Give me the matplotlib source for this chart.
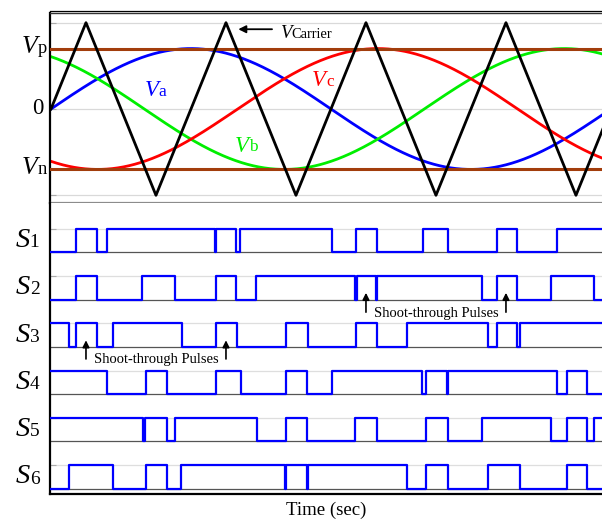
"""
Carrier-based PWM with shoot-through states: reference waves, carrier and gate signals
"""
import numpy as np
import matplotlib
matplotlib.use("Agg")
import matplotlib.pyplot as plt
from matplotlib.transforms import blended_transform_factory

plt.rcParams['font.family'] = 'Liberation Serif'

# time is measured in carrier periods
T_END = 4.0

# triangular carrier, vertex times and values
CARRIER_T = [0, 0.25, 0.75, 1.25, 1.75, 2.25, 2.75, 3.25, 3.75, 4.0]
CARRIER_V = [0, 1, -1, 1, -1, 1, -1, 1, -1, 0]

# shoot-through envelopes and modulating waves
V_P = 0.7
V_N = -0.7
MOD_PERIOD = 4.0
PHASES = [0, 120, -120]          # Va, Vb, Vc in degrees
WAVE_NAMES = ['a', 'b', 'c']
WAVE_COLORS = ['#0000ff', '#00ee00', '#ff0000']

# gate signals: state at t = 0 and switching instants
S_NAMES = ['1', '2', '3', '4', '5', '6']
S_START = [0, 0, 1, 1, 1, 0]
S_EDGES = [
    [0.176, 0.326, 0.400, 1.171, 1.181, 1.321, 1.350, 2.005, 2.179, 2.326,
     2.657, 2.834, 3.184, 3.331, 3.612],
    [0.176, 0.326, 0.652, 0.886, 1.176, 1.321, 1.464, 2.171, 2.184, 2.325,
     2.332, 3.076, 3.184, 3.331, 3.569, 3.879],
    [0.129, 0.176, 0.326, 0.441, 0.934, 1.176, 1.326, 1.679, 1.834, 2.179,
     2.326, 2.541, 3.119, 3.184, 3.331, 3.352],
    [0.398, 0.676, 0.826, 1.176, 1.355, 1.679, 1.831, 2.005, 2.650, 2.679,
     2.829, 2.839, 3.612, 3.684, 3.831],
    [0.655, 0.671, 0.826, 0.886, 1.469, 1.679, 1.831, 2.171, 2.326, 2.679,
     2.834, 3.076, 3.569, 3.684, 3.831, 3.879],
    [0.129, 0.441, 0.676, 0.826, 0.929, 1.674, 1.681, 1.829, 1.836, 2.541,
     2.679, 2.834, 3.119, 3.352, 3.684, 3.831],
]

# shoot-through pulses pointed at (times, on S3 and S2 rows)
ST_ARROWS_LOW = [0.25, 1.25]
ST_ARROWS_HIGH = [2.25, 3.25]

BROWN = '#a23d0c'
BLUE = '#0000ff'


def split_label(ax, x, y, head, tail, size, color='k', transform=None,
                align='left', ratio=0.75):
    """Italic letter followed by a smaller upright suffix on one baseline."""
    small = size * ratio
    shift = 0.216 * (size - small)
    if transform is None:
        transform = ax.transData
    if align == 'left':
        t1 = ax.text(x, y, head, fontsize=size, style='italic', color=color,
                     transform=transform, ha='left', va='baseline')
        ax.annotate(tail, xy=(1, 0), xycoords=t1, xytext=(0, shift),
                    textcoords='offset points', fontsize=small, color=color,
                    ha='left', va='bottom', annotation_clip=False)
    else:
        t2 = ax.text(x, y, tail, fontsize=small, color=color,
                     transform=transform, ha='right', va='baseline',
                     clip_on=False)
        ax.annotate(head, xy=(0, 0), xycoords=t2, xytext=(0, -shift),
                    textcoords='offset points', fontsize=size,
                    style='italic', color=color, ha='right', va='bottom',
                    annotation_clip=False)


fig = plt.figure(figsize=(6.02, 5.19), dpi=100)
W, H = 602.0, 519.0
ax1 = fig.add_axes([50 / W, 1 - 203 / H, 552 / W, 190 / H])
ax2 = fig.add_axes([50 / W, 1 - 494 / H, 552 / W, 291 / H], sharex=ax1)
ax1.set_xlim(-0.007, 3.936)

# ---- upper panel: carrier and references ----
ax1.set_ylim(-1.089, 1.112)
for yy in (-1, 0, 1):
    ax1.axhline(yy, color='#d9d9d9', lw=0.9, zorder=0)

t = np.linspace(0, T_END, 1500)
for ph, col in zip(PHASES, WAVE_COLORS):
    ax1.plot(t, V_P * np.sin(2 * np.pi * t / MOD_PERIOD + np.radians(ph)),
             color=col, lw=2.0, zorder=2)
ax1.axhline(V_P, color=BROWN, lw=2.2, zorder=3)
ax1.axhline(V_N, color=BROWN, lw=2.2, zorder=3)
ax1.plot(CARRIER_T, CARRIER_V, color='k', lw=2.0, zorder=4)

ax1.set_yticks([-1, V_N, 0, V_P, 1])
ax1.tick_params(axis='y', direction='in', length=4, width=0.8,
                color='#aaaaaa', labelleft=False)
ax1.tick_params(axis='x', bottom=False, labelbottom=False)
ax1.spines['right'].set_visible(False)
ax1.spines['left'].set_linewidth(1.6)
ax1.spines['top'].set_color('#333333')
ax1.spines['top'].set_linewidth(1.0)
ax1.spines['bottom'].set_color('#8c8c8c')
ax1.spines['bottom'].set_linewidth(1.6)
ax1.axhline(1.137, color='k', lw=0.9, clip_on=False)

lab1 = blended_transform_factory(ax1.transAxes, ax1.transData)
split_label(ax1, -0.006, V_P - 0.05, 'V', 'p', 18.5, transform=lab1,
            align='right', ratio=0.72)
split_label(ax1, -0.006, V_N - 0.05, 'V', 'n', 18.5, transform=lab1,
            align='right', ratio=0.72)
ax1.text(-0.011, 0, '0', fontsize=16.5, transform=lab1, ha='right',
         va='center')

split_label(ax1, 0.668, 0.151, 'V', WAVE_NAMES[0], 16.5, color=WAVE_COLORS[0])
split_label(ax1, 1.316, -0.495, 'V', WAVE_NAMES[1], 16.5,
            color=WAVE_COLORS[1])
split_label(ax1, 1.866, 0.267, 'V', WAVE_NAMES[2], 16.5, color=WAVE_COLORS[2])
split_label(ax1, 1.633, 0.819, 'V', 'Carrier', 13.5, ratio=0.77)
ax1.annotate('', xy=(1.338, 0.924), xytext=(1.579, 0.924),
             arrowprops=dict(arrowstyle='-|>', color='k', lw=1.3,
                             mutation_scale=11, shrinkA=0, shrinkB=0))

# ---- lower panel: gate signals ----
ax2.set_ylim(-0.224, 12.09)
n = len(S_NAMES)
lab2 = blended_transform_factory(ax2.transAxes, ax2.transData)
for k in range(n):
    low = 2 * (n - 1 - k)
    ax2.axhline(low, color='#555555', lw=0.9, zorder=1)
    ax2.axhline(low + 1, color='#dedede', lw=0.9, zorder=0)
    times = [0] + S_EDGES[k] + [T_END]
    states = [S_START[k]]
    for _ in S_EDGES[k]:
        states.append(1 - states[-1])
    states.append(states[-1])
    ax2.step(times, [low + s for s in states], where='post', color=BLUE,
             lw=1.6, zorder=3)
    split_label(ax2, -0.019, low + 0.22, 'S', S_NAMES[k], 20.5,
                transform=lab2, align='right', ratio=0.68)

ax2.set_yticks([2 * k + 1 for k in range(n)])
ax2.tick_params(axis='y', direction='in', length=4, width=0.8,
                color='#aaaaaa', labelleft=False)
ax2.tick_params(axis='x', bottom=False, labelbottom=False)
ax2.spines['top'].set_visible(False)
ax2.spines['right'].set_visible(False)
ax2.spines['left'].set_linewidth(1.6)
ax2.spines['bottom'].set_linewidth(1.6)

arrow_kw = dict(arrowstyle='-|>', color='k', lw=1.2, mutation_scale=10,
                shrinkA=0, shrinkB=0)
for xa in ST_ARROWS_LOW:
    ax2.annotate('', xy=(xa, 6.28), xytext=(xa, 5.49), arrowprops=arrow_kw)
for xa in ST_ARROWS_HIGH:
    ax2.annotate('', xy=(xa, 8.29), xytext=(xa, 7.47), arrowprops=arrow_kw)
ax2.text(0.307, 5.30, 'Shoot-through Pulses', fontsize=10.5, va='baseline')
ax2.text(2.307, 7.28, 'Shoot-through Pulses', fontsize=10.5, va='baseline')

fig.text(326 / W, 1 - 510 / H, 'Time (sec)', fontsize=13.5, ha='center',
         va='center')

fig.savefig('out.png', dpi=100)
